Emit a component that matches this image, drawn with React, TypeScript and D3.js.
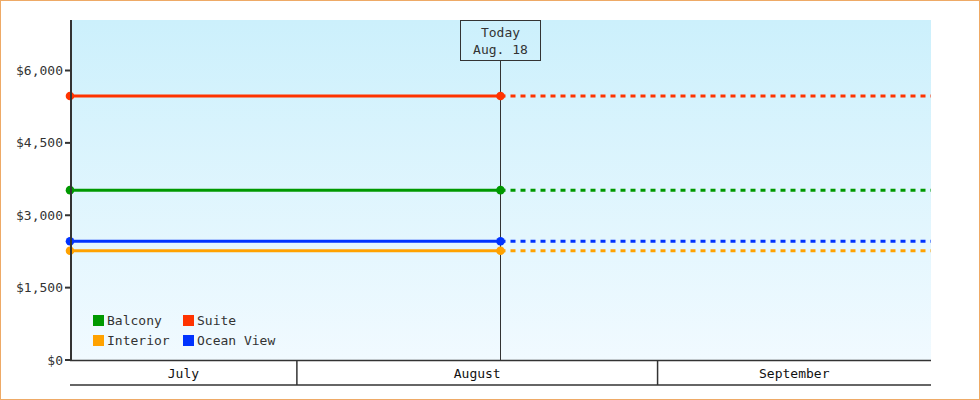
import React from "react";
import * as d3 from "d3";

const categories = ["Balcony", "Suite", "Interior", "Ocean View"];
const prices = [3520, 5470, 2265, 2460];
const colors = ["#009900", "#ff3300", "#ffa200", "#0033ff"];
const yTicks = [0, 1500, 3000, 4500, 6000];
const startDate = new Date(2019, 6, 12, 12);
const endDate = new Date(2019, 8, 24, 12);
const todayDate = new Date(2019, 7, 18, 12);
const todayLines = ["Today", "Aug. 18"];

const W = 980;
const H = 400;
const left = 70;
const right = 931;
const top = 20;
const bottom = 360;
const bandBottom = 385;
const FONT = "'DejaVu Sans Mono', monospace";

export default function App() {
  const x = d3.scaleTime().domain([startDate, endDate]).range([left, right]);
  const y = d3.scaleLinear().domain([0, 6000]).range([bottom, 70.5]);
  const fmt = (v: number) => "$" + d3.format(",")(v);
  const tx = x(todayDate);
  const txl = Math.floor(tx) + 0.5;

  const months = d3.timeMonth.range(d3.timeMonth.floor(startDate), endDate);
  const segs = months.map((m) => {
    const s = Math.max(x(m), left);
    const e = Math.min(x(d3.timeMonth.offset(m, 1)), right);
    return { label: d3.timeFormat("%B")(m), s, e };
  });

  const solid = d3.line<[number, number]>().x((d) => d[0]).y((d) => d[1]);

  return (
    <>
      <style>{`body{margin:0}`}</style>
      <svg width={W} height={H} style={{ display: "block" }} fontFamily={FONT}>
        <defs>
          <linearGradient id="bg" x1="0" y1="0" x2="0" y2="1">
            <stop offset="0" stopColor="#ccf0fc" />
            <stop offset="1" stopColor="#f1faff" />
          </linearGradient>
        </defs>
        <rect x={0.5} y={0.5} width={W - 1} height={H - 1} fill="#fff" stroke="#eeaa66" />
        <rect x={left} y={top} width={right - left} height={bottom - top} fill="url(#bg)" />

        {/* today marker */}
        <line x1={txl} x2={txl} y1={60} y2={bottom} stroke="#333" strokeWidth={1} />
        <rect x={460.5} y={20.5} width={80} height={40} fill="none" stroke="#333" strokeWidth={1} />
        {todayLines.map((t, i) => (
          <text key={t} x={500.5} y={37 + i * 17} textAnchor="middle" fontSize={13} fill="#333">
            {t}
          </text>
        ))}

        {/* series */}
        {categories.map((c, i) => {
          const py = y(prices[i]);
          return (
            <g key={c}>
              <path d={solid([[x(startDate), py], [tx, py]]) || ""} stroke={colors[i]} strokeWidth={3} fill="none" />
              <path
                d={solid([[tx, py], [x(endDate), py]]) || ""}
                stroke={colors[i]}
                strokeWidth={3}
                fill="none"
                strokeDasharray="5 5"
              />
              <circle cx={x(startDate)} cy={py} r={4.3} fill={colors[i]} />
              <circle cx={tx} cy={py} r={4.3} fill={colors[i]} />
            </g>
          );
        })}

        {/* y axis */}
        <line x1={left + 1} x2={left + 1} y1={top} y2={bottom} stroke="#333" strokeWidth={2} />
        {yTicks.map((t) => (
          <g key={t}>
            <line x1={left - 5} x2={left} y1={y(t)} y2={y(t)} stroke="#333" strokeWidth={2} />
            <text x={left - 7} y={y(t) + 4.5} textAnchor="end" fontSize={13} fill="#333">
              {fmt(t)}
            </text>
          </g>
        ))}

        {/* month band */}
        <line x1={left} x2={right} y1={bottom + 0.5} y2={bottom + 0.5} stroke="#333" strokeWidth={1.5} />
        <line x1={left} x2={right} y1={bandBottom} y2={bandBottom} stroke="#333" strokeWidth={1.5} />
        {segs.map((s, i) => (
          <g key={s.label}>
            {i > 0 && <line x1={s.s} x2={s.s} y1={bottom} y2={bandBottom} stroke="#333" strokeWidth={1.5} />}
            <text x={(s.s + s.e) / 2} y={378} textAnchor="middle" fontSize={13} fill="#111">
              {s.label}
            </text>
          </g>
        ))}

        {/* legend */}
        {categories.map((c, i) => {
          const col = i % 2;
          const row = Math.floor(i / 2);
          const lx = 93 + col * 90;
          const ly = 315 + row * 20;
          return (
            <g key={c}>
              <rect x={lx} y={ly} width={11} height={11} fill={colors[i]} />
              <text x={lx + 14} y={ly + 10} fontSize={13} fill="#333">
                {c}
              </text>
            </g>
          );
        })}
      </svg>
    </>
  );
}
